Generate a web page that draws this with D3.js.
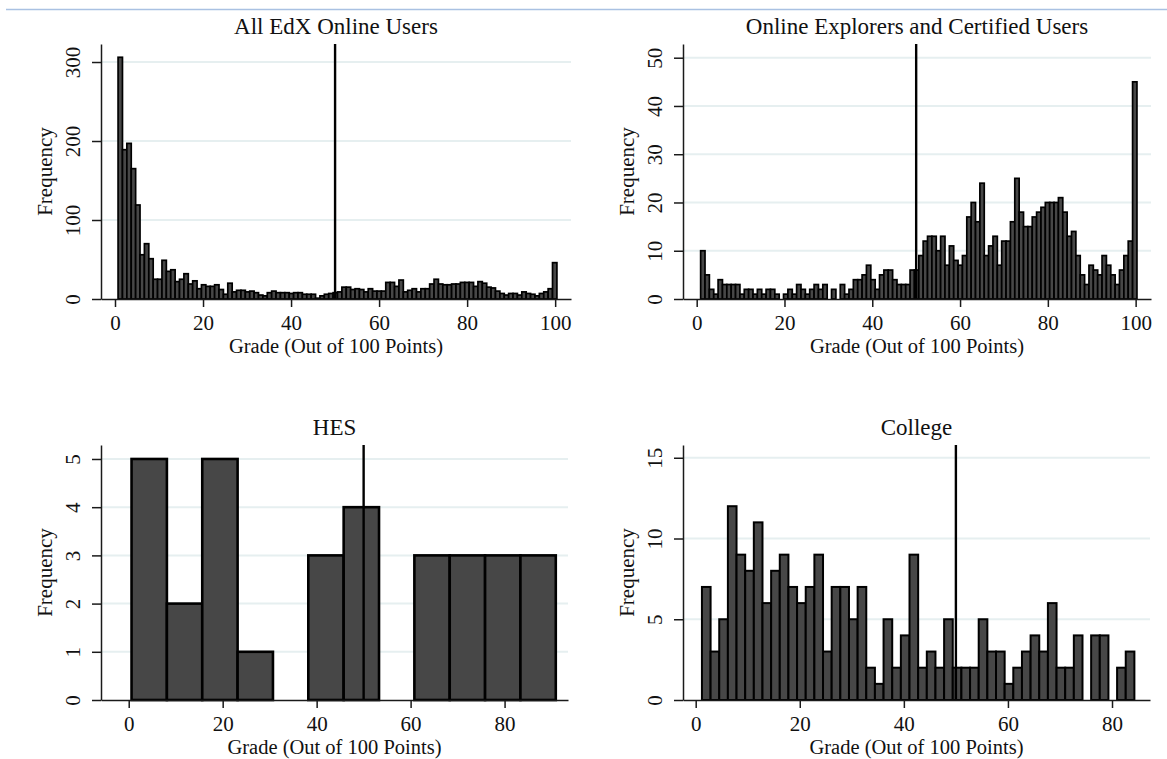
<!DOCTYPE html>
<html>
<head>
<meta charset="utf-8">
<script src="https://cdn.jsdelivr.net/npm/d3@7"></script>
<style>
  body { margin: 0; background: #fff; }
  text { font-family: "Liberation Serif", "Times New Roman", serif; fill: #111; }
</style>
</head>
<body>
<div id="root"></div>
<script>
// Chart size
const width = 1167;
const height = 759;

// Data: histogram counts, one value per bin
const allUsersCounts = [
  306, 189, 197, 165, 119, 56, 70, 51, 25, 25,
  49, 35, 37, 22, 25, 32, 19, 23, 13, 18,
  16, 16, 18, 12, 6, 20, 9, 11, 11, 9,
  10, 8, 5, 4, 8, 10, 8, 8, 8, 7,
  8, 8, 6, 6, 6, 1, 4, 6, 7, 8,
  9, 15, 15, 12, 13, 12, 9, 13, 10, 10,
  10, 21, 21, 16, 24, 9, 11, 13, 9, 13,
  13, 19, 25, 19, 18, 18, 19, 19, 21, 21,
  21, 16, 22, 20, 15, 14, 10, 7, 5, 7,
  7, 5, 9, 7, 6, 4, 7, 9, 13, 46
];

const explorersCounts = [
  10, 5, 2, 1, 4, 3, 3, 3, 3, 1,
  2, 2, 1, 2, 1, 2, 2, 1, 0, 1,
  2, 1, 3, 2, 1, 2, 3, 2, 3, 0,
  2, 0, 3, 1, 2, 4, 4, 5, 7, 4,
  2, 5, 6, 6, 4, 3, 3, 3, 6, 6,
  9, 12, 13, 13, 10, 13, 7, 11, 8, 7,
  9, 17, 20, 16, 24, 9, 11, 13, 7, 12,
  12, 16, 25, 18, 15, 15, 17, 18, 19, 20,
  20, 20, 21, 18, 13, 14, 9, 5, 3, 7,
  6, 5, 9, 7, 5, 3, 6, 9, 12, 45
];

const hesCounts = [5, 2, 5, 1, 0, 3, 4, 0, 3, 3, 3, 3];

const collegeCounts = [
  7, 3, 5, 12, 9, 8, 11, 6, 8, 9,
  7, 6, 7, 9, 3, 7, 7, 5, 7, 2,
  1, 5, 2, 4, 9, 2, 3, 2, 5, 2,
  2, 2, 5, 3, 3, 1, 2, 3, 4, 3,
  6, 2, 2, 4, 0, 4, 4, 0, 2, 3
];

// bins: [first bin start, bin width] in grade points
const allUsersBins = [0.7, 0.997];
const explorersBins = [0.9, 0.994];
const hesBins = [0.6, 7.525];
const collegeBins = [1.2, 1.662];

// Tick labels
const gradeTicksTop = [0, 20, 40, 60, 80, 100];
const gradeTicksBottom = [0, 20, 40, 60, 80];
const allUsersTicks = [0, 100, 200, 300];
const explorersTicks = [0, 10, 20, 30, 40, 50];
const hesTicks = [0, 1, 2, 3, 4, 5];
const collegeTicks = [0, 5, 10, 15];

const passGrade = 50;
const xTitle = "Grade (Out of 100 Points)";
const yTitle = "Frequency";

// Panel layout (pixels) built from the arrays above
const panels = [
  { title: "All EdX Online Users", counts: allUsersCounts, bins: allUsersBins,
    xTicks: gradeTicksTop, yTicks: allUsersTicks,
    left: 101, right: 571, top: 44, bottom: 299,
    xDomain: [-3.18, 103.6], yMax: 322.8, barStroke: 1.7 },
  { title: "Online Explorers and Certified Users", counts: explorersCounts, bins: explorersBins,
    xTicks: gradeTicksTop, yTicks: explorersTicks,
    left: 683, right: 1151, top: 44, bottom: 299,
    xDomain: [-3.12, 103.5], yMax: 52.84, barStroke: 1.7 },
  { title: "HES", counts: hesCounts, bins: hesBins,
    xTicks: gradeTicksBottom, yTicks: hesTicks,
    left: 101, right: 568, top: 445, bottom: 700,
    xDomain: [-5.9, 93.5], yMax: 5.29, barStroke: 2.6 },
  { title: "College", counts: collegeCounts, bins: collegeBins,
    xTicks: gradeTicksBottom, yTicks: collegeTicks,
    left: 683, right: 1150, top: 445, bottom: 700,
    xDomain: [-2.44, 87.3], yMax: 15.79, barStroke: 2 }
];

// Creating svg
const svg = d3
  .select("#root")
  .append("svg")
  .attr("width", width)
  .attr("height", height)
  .style("background", "#fff");

// thin frame line along the top
svg
  .append("line")
  .attr("x1", 6)
  .attr("x2", width)
  .attr("y1", 9.5)
  .attr("y2", 9.5)
  .attr("stroke", "#a9c1e2")
  .attr("stroke-width", 1.5);

function drawPanel(p) {
  const g = svg.append("g");

  const xScale = d3.scaleLinear().domain(p.xDomain).range([p.left, p.right]);
  const yScale = d3.scaleLinear().domain([0, p.yMax]).range([p.bottom, p.top]);

  // Gridlines
  g.append("g")
    .selectAll("line")
    .data(p.yTicks.filter(d => d > 0))
    .enter()
    .append("line")
    .attr("x1", p.left)
    .attr("x2", p.right)
    .attr("y1", d => yScale(d))
    .attr("y2", d => yScale(d))
    .attr("stroke", "#e6eff0")
    .attr("stroke-width", 2);

  // Bars
  const bars = p.counts.map((c, i) => ({
    x0: p.bins[0] + i * p.bins[1],
    x1: p.bins[0] + (i + 1) * p.bins[1],
    count: c
  })).filter(d => d.count > 0);

  g.append("g")
    .selectAll("rect")
    .data(bars)
    .enter()
    .append("rect")
    .attr("x", d => xScale(d.x0))
    .attr("width", d => xScale(d.x1) - xScale(d.x0))
    .attr("y", d => yScale(d.count))
    .attr("height", d => yScale(0) - yScale(d.count))
    .attr("fill", "#474747")
    .attr("stroke", "#000")
    .attr("stroke-width", p.barStroke);

  // Passing grade line
  g.append("line")
    .attr("x1", xScale(passGrade))
    .attr("x2", xScale(passGrade))
    .attr("y1", yScale(0))
    .attr("y2", p.top)
    .attr("stroke", "#000")
    .attr("stroke-width", 2.4);

  // Axes
  const xAxis = d3.axisBottom(xScale)
    .tickValues(p.xTicks)
    .tickFormat(d3.format("d"))
    .tickSize(8)
    .tickSizeOuter(0)
    .tickPadding(8);

  const yAxis = d3.axisLeft(yScale)
    .tickValues(p.yTicks)
    .tickFormat(d3.format("d"))
    .tickSize(9)
    .tickSizeOuter(0);

  const gx = g.append("g")
    .attr("transform", "translate(0," + p.bottom + ")")
    .call(xAxis);

  const gy = g.append("g")
    .attr("transform", "translate(" + p.left + ",0)")
    .call(yAxis);

  [gx, gy].forEach(a => {
    a.selectAll("path, line").attr("stroke", "#1a1a1a").attr("stroke-width", 1.5);
    a.selectAll("text")
      .style("font-family", "'Liberation Serif', serif")
      .style("font-size", "21px")
      .attr("fill", "#111");
  });

  // rotate y tick labels like the original
  gy.selectAll("text")
    .attr("transform", "rotate(-90)")
    .attr("x", 0)
    .attr("y", -28)
    .attr("dy", "0.35em")
    .attr("text-anchor", "middle");

  // Titles
  g.append("text")
    .attr("x", (p.left + p.right) / 2)
    .attr("y", p.top - 10)
    .attr("text-anchor", "middle")
    .style("font-size", "23px")
    .text(p.title);

  g.append("text")
    .attr("x", (p.left + p.right) / 2)
    .attr("y", p.bottom + 54)
    .attr("text-anchor", "middle")
    .style("font-size", "20.5px")
    .text(xTitle);

  g.append("text")
    .attr("transform", "translate(" + (p.left - 49) + "," + (p.top + p.bottom) / 2 + ") rotate(-90)")
    .attr("text-anchor", "middle")
    .style("font-size", "21px")
    .text(yTitle);
}

panels.forEach(drawPanel);
</script>
</body>
</html>
